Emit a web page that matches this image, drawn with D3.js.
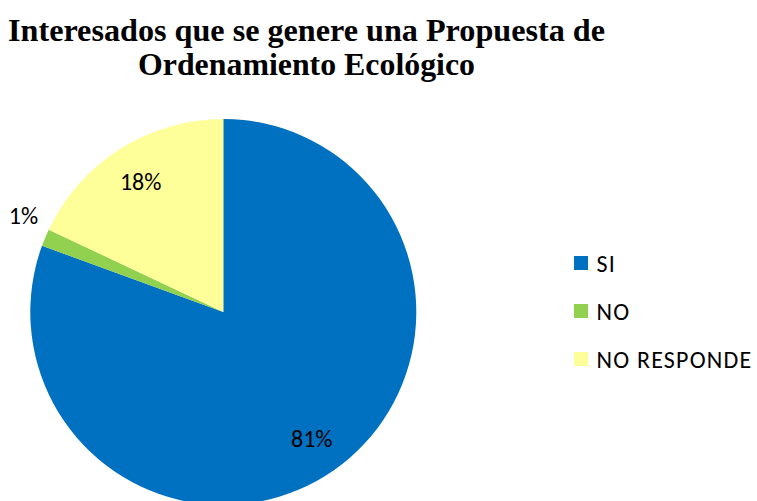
<!DOCTYPE html>
<html>
<head>
<meta charset="utf-8">
<script src="https://cdn.jsdelivr.net/npm/d3@7/dist/d3.min.js"></script>
<style>
  html, body { margin: 0; padding: 0; background: #fff; }
  svg { display: block; }
</style>
</head>
<body>
<svg id="chart" width="757" height="501"></svg>
<script>
// Survey answers
const categories = ["SI", "NO", "NO RESPONDE"];
const counts = [112, 2, 25];
const colors = ["#0070C0", "#92D050", "#FFFF99"];
const titleLines = ["Interesados que se genere una Propuesta de", "Ordenamiento Ecológico"];

const svg = d3.select("#chart");
const cx = 223.3, cy = 312, R = 193;
const labelFont = "Carlito, Lato, 'Open Sans', sans-serif";

// Title (two centred lines, condensed bold serif)
svg.append("g").selectAll("text")
  .data(titleLines)
  .join("text")
  .attr("x", 306.5)
  .attr("y", (d, i) => 41 + i * 34)
  .attr("text-anchor", "middle")
  .attr("font-family", "Liberation Serif, Times New Roman, serif")
  .attr("font-weight", "bold")
  .attr("font-size", 31)
  .attr("textLength", (d, i) => i === 0 ? 597 : 337)
  .attr("lengthAdjust", "spacingAndGlyphs")
  .attr("fill", "#000")
  .text(d => d);

// Pie, starting at 12 o'clock and running clockwise
const data = categories.map((c, i) => ({ name: c, value: counts[i], color: colors[i] }));
const total = d3.sum(counts);
const pie = d3.pie().value(d => d.value).sort(null);
const arcs = pie(data);
const arc = d3.arc().innerRadius(0).outerRadius(R);
const labelArc = d3.arc().innerRadius(R * 0.8).outerRadius(R * 0.8);
const outerArc = d3.arc().innerRadius(R * 1.1).outerRadius(R * 1.1);

const g = svg.append("g").attr("transform", `translate(${cx},${cy})`);
g.selectAll("path")
  .data(arcs)
  .join("path")
  .attr("d", arc)
  .attr("fill", d => d.data.color);

// Percentage labels; thin slices get their label just outside the rim
const fmt = d => Math.round(d.data.value / total * 100) + "%";
g.selectAll("text.pct")
  .data(arcs)
  .join("text")
  .attr("class", "pct")
  .attr("transform", d => {
    const small = (d.endAngle - d.startAngle) < 0.2;
    if (small) {
      const [x, y] = outerArc.centroid(d);
      return `translate(${x - 4},${y - 15})`;
    }
    const [x, y] = labelArc.centroid(d);
    return `translate(${x},${y})`;
  })
  .attr("text-anchor", "middle")
  .attr("dominant-baseline", "central")
  .attr("font-family", labelFont)
  .attr("font-size", 24)
  .attr("fill", "#000")
  .text(fmt);

// Legend
const items = svg.append("g")
  .attr("transform", "translate(574,256)")
  .selectAll("g")
  .data(data)
  .join("g")
  .attr("transform", (d, i) => `translate(0,${i * 48})`);
items.append("rect")
  .attr("width", 14)
  .attr("height", 14)
  .attr("fill", d => d.color);
items.append("text")
  .attr("x", 22.5)
  .attr("y", 7.5)
  .attr("dominant-baseline", "central")
  .attr("font-family", labelFont)
  .attr("font-size", 24)
  .attr("letter-spacing", 1.2)
  .attr("fill", "#000")
  .text(d => d.name);
</script>
</body>
</html>
